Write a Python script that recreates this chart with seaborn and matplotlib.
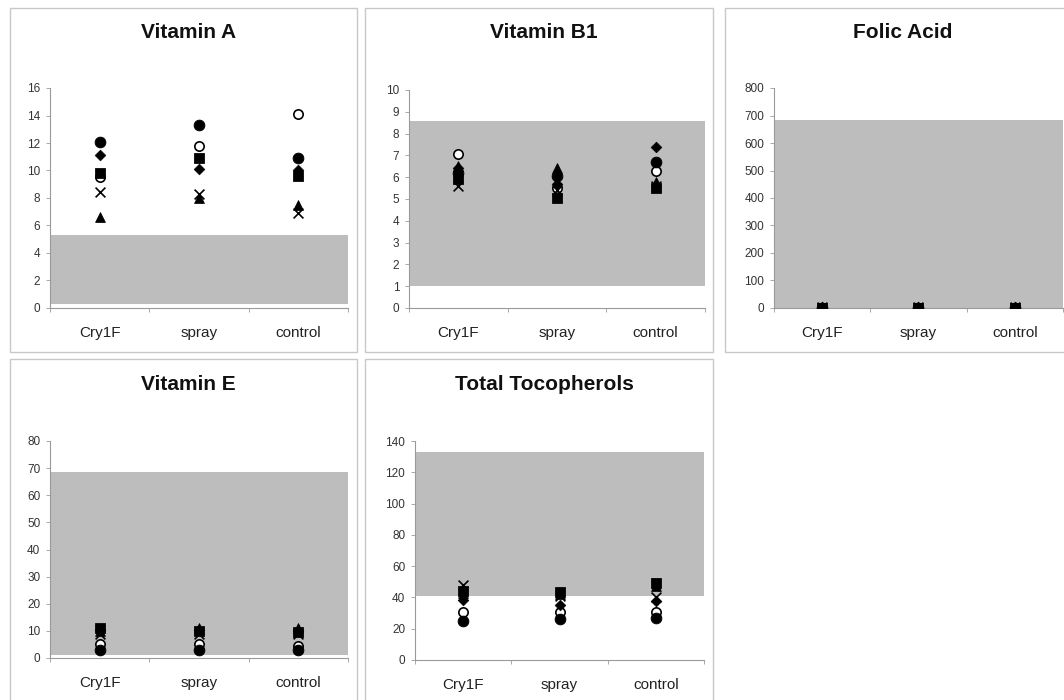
import matplotlib
matplotlib.use("Agg")
import matplotlib.pyplot as plt
from matplotlib.patches import Rectangle
import seaborn as sns
import pandas as pd

sns.set_theme(style="white")
plt.rcParams['font.family'] = ['Liberation Sans', 'DejaVu Sans']

categories = ["Cry1F", "spray", "control"]
series_names = ["diamond", "square", "triangle", "cross", "circle", "open circle"]

# Vitamin A
vitA_diamond = [11.1, 10.1, 10.0]
vitA_square = [9.8, 10.9, 9.6]
vitA_triangle = [6.6, 8.0, 7.5]
vitA_cross = [8.4, 8.3, 6.9]
vitA_circle = [12.1, 13.3, 10.9]
vitA_open = [9.5, 11.8, 14.1]
vitA_range = [0.3, 5.3]

# Vitamin B1
vitB1_diamond = [6.4, 5.7, 7.4]
vitB1_square = [5.9, 5.05, 5.5]
vitB1_triangle = [6.5, 6.4, 5.8]
vitB1_cross = [5.6, 5.4, 5.6]
vitB1_circle = [6.2, 6.05, 6.7]
vitB1_open = [7.05, 5.5, 6.3]
vitB1_range = [1.0, 8.6]

# Folic Acid
folic_diamond = [2, 2, 2]
folic_square = [1, 1, 1]
folic_triangle = [2, 2, 2]
folic_cross = [2, 2, 2]
folic_circle = [1, 1, 1]
folic_open = [1, 1, 1]
folic_range = [0, 683]

# Vitamin E
vitE_diamond = [10.5, 10.5, 10.0]
vitE_square = [11.0, 10.0, 9.5]
vitE_triangle = [10.0, 11.0, 11.0]
vitE_cross = [9.0, 9.0, 9.0]
vitE_circle = [3.0, 3.0, 3.0]
vitE_open = [5.0, 5.0, 4.5]
vitE_range = [1.0, 68.5]

# Total Tocopherols
toco_diamond = [38.5, 35.0, 37.5]
toco_square = [44.0, 43.5, 49.0]
toco_triangle = [43.0, 42.0, 47.5]
toco_cross = [48.0, 41.0, 40.5]
toco_circle = [25.0, 26.0, 27.0]
toco_open = [31.0, 31.0, 30.5]
toco_range = [41.0, 133.0]

panels = [
    ("Vitamin A", [vitA_diamond, vitA_square, vitA_triangle, vitA_cross, vitA_circle, vitA_open], vitA_range, 16, 2),
    ("Vitamin B1", [vitB1_diamond, vitB1_square, vitB1_triangle, vitB1_cross, vitB1_circle, vitB1_open], vitB1_range, 10, 1),
    ("Folic Acid", [folic_diamond, folic_square, folic_triangle, folic_cross, folic_circle, folic_open], folic_range, 800, 100),
    ("Vitamin E", [vitE_diamond, vitE_square, vitE_triangle, vitE_cross, vitE_circle, vitE_open], vitE_range, 80, 10),
    ("Total Tocopherols", [toco_diamond, toco_square, toco_triangle, toco_cross, toco_circle, toco_open], toco_range, 140, 20),
]

W, H = 1064, 700
# axes boxes in pixels: left, top, right, bottom
axes_px = [(50, 88, 348, 308), (409, 90, 705, 308), (774, 88, 1063, 308),
           (50, 441, 348, 658), (415, 441, 704, 660)]
panel_px = [(10, 8, 357, 352), (365, 8, 713, 352), (725, 8, 1070, 352),
            (10, 359, 357, 705), (365, 359, 713, 705)]

styles = {
    "diamond": dict(marker="D", s=30, color="black", edgecolor="black"),
    "square": dict(marker="s", s=50, color="black", edgecolor="black"),
    "triangle": dict(marker="^", s=50, color="black", edgecolor="black"),
    "cross": dict(marker="x", s=50, color="black", linewidth=1.2),
    "circle": dict(marker="o", s=60, color="black", edgecolor="black"),
    "open circle": dict(marker="o", s=45, facecolor="white", edgecolor="black", linewidth=1.2),
}
draw_order = ["open circle", "diamond", "triangle", "cross", "circle", "square"]

fig = plt.figure(figsize=(W / 100, H / 100), dpi=100)
fig.patch.set_facecolor("white")

for (l, t, r, b) in panel_px:
    fig.add_artist(Rectangle((l / W, 1 - b / H), (r - l) / W, (b - t) / H,
                             transform=fig.transFigure, facecolor="none",
                             edgecolor="#c8c8c8", linewidth=1.0))

for (title, vals, rng, ymax, step), (l, t, r, b), (pl, pt, pr, pb) in zip(panels, axes_px, panel_px):
    ax = fig.add_axes([l / W, 1 - b / H, (r - l) / W, (b - t) / H])
    ax.set_facecolor("none")
    ax.axhspan(rng[0], rng[1], color="#bdbdbd", zorder=0, lw=0)
    for k, name in enumerate(draw_order):
        i = series_names.index(name)
        df = pd.DataFrame({"cat": categories, "val": vals[i]})
        sns.scatterplot(data=df, x="cat", y="val", ax=ax, zorder=3 + k, **styles[name])
    ax.set_xlim(-0.5, 2.5)
    ax.set_ylim(0, ymax)
    ax.set_yticks(list(range(0, ymax + 1, step)))
    ax.set_xticks([0, 1, 2])
    ax.set_xticklabels(categories)
    ax.set_xticks([-0.5, 0.5, 1.5, 2.5], minor=True)
    ax.set_xlabel("")
    ax.set_ylabel("")
    for sp in ["top", "right"]:
        ax.spines[sp].set_visible(False)
    for sp in ["left", "bottom"]:
        ax.spines[sp].set_color("#9a9a9a")
        ax.spines[sp].set_linewidth(0.8)
    ax.tick_params(axis="y", which="major", left=True, length=3, width=0.6, color="#9a9a9a",
                   labelsize=8.5, labelcolor="#333333", pad=4)
    ax.tick_params(axis="x", which="major", bottom=False, labelsize=11, labelcolor="#222222", pad=7)
    ax.tick_params(axis="x", which="minor", bottom=True, length=3, width=0.6, color="#9a9a9a")
    ax.grid(False)
    fig.text(((pl + pr) / 2 + 5) / W, 1 - (pt + 25) / H, title, ha="center", va="center",
             fontsize=15, fontweight="bold", color="#111111")

fig.savefig("out.png", dpi=100, facecolor="white")
